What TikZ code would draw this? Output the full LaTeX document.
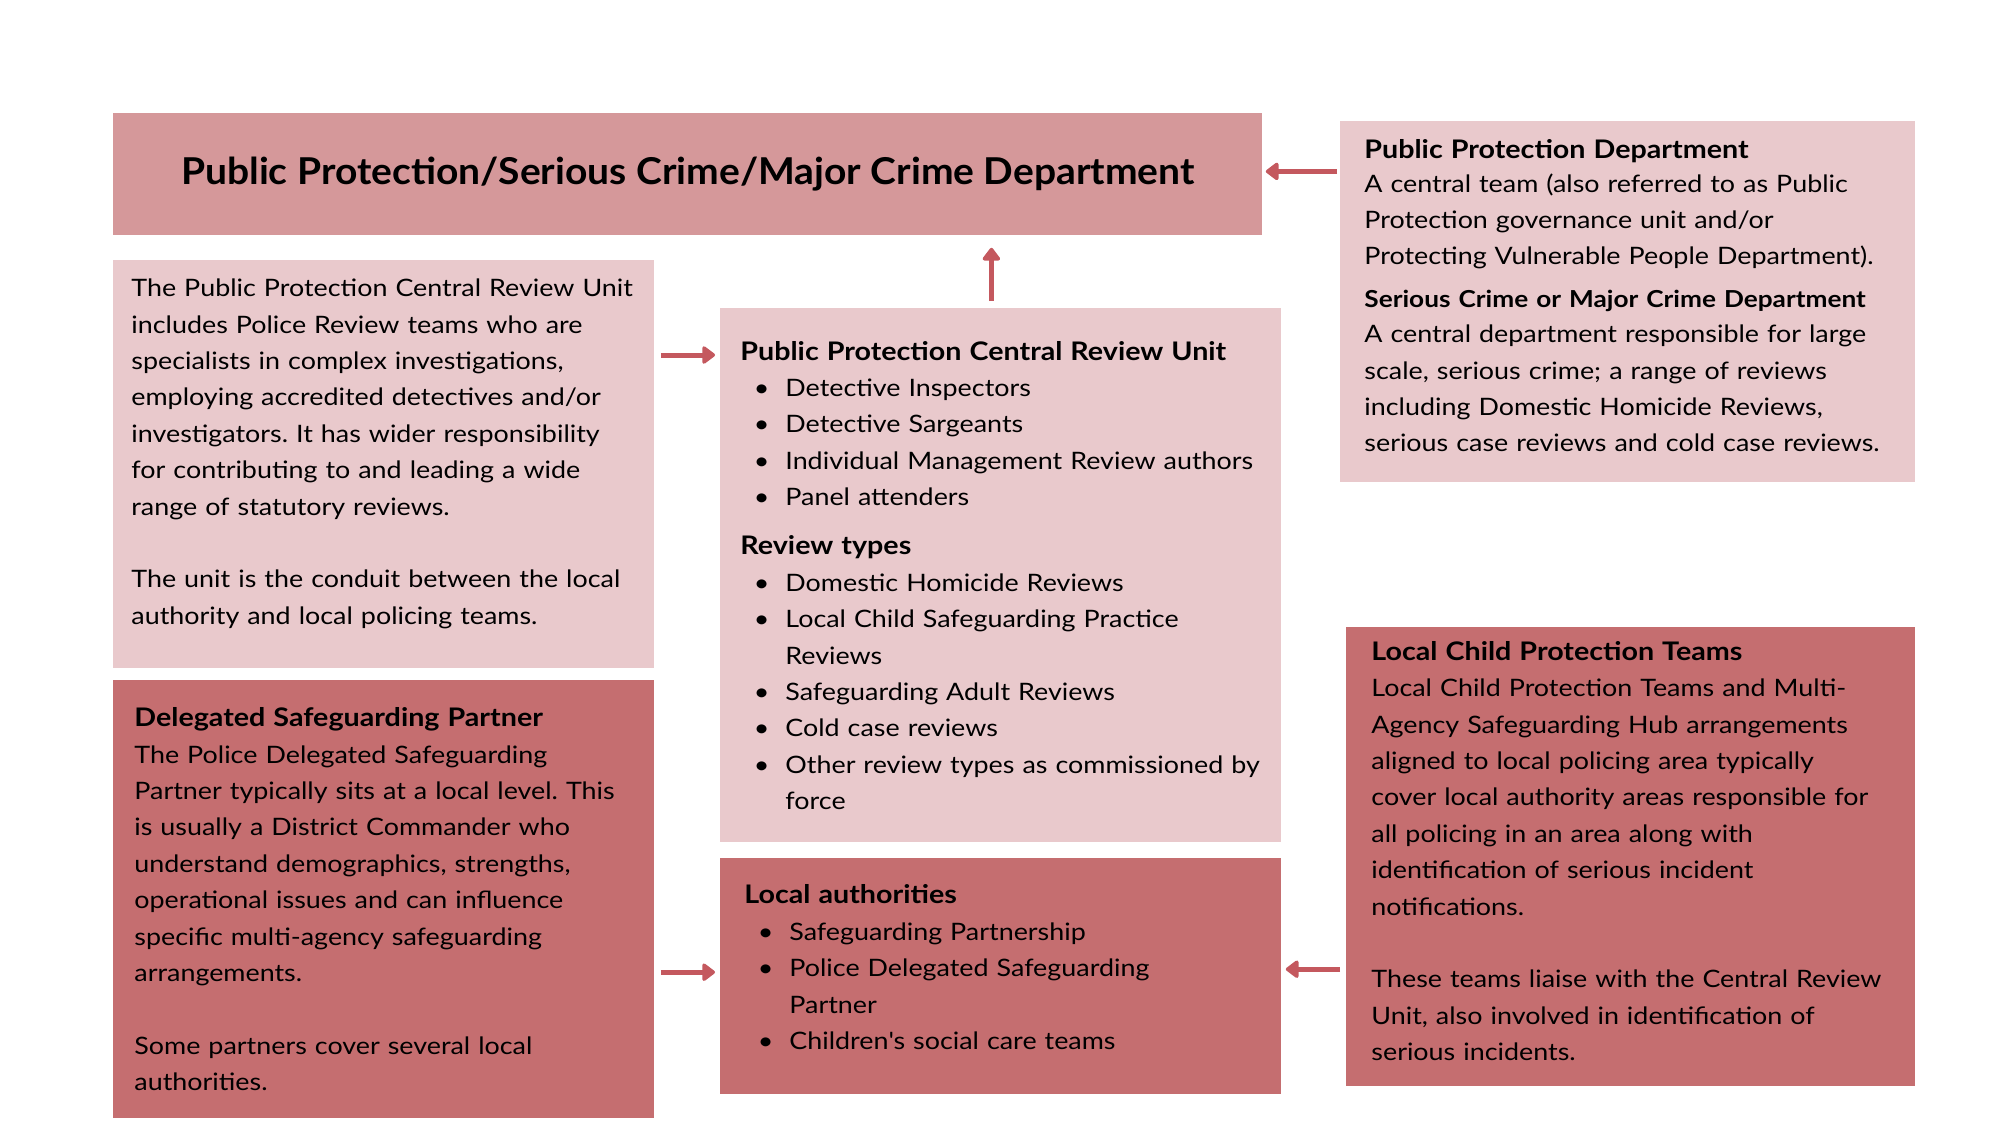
\documentclass[tikz,border=0pt]{standalone}
\usepackage{fontspec}
\setmainfont{Lato}[FakeStretch=1.12]
\newfontfamily\TitleFont{Lato}[FakeStretch=1.054]
\usepackage{enumitem}
\usetikzlibrary{positioning,arrows.meta}
\definecolor{deptpink}{HTML}{D5989A}
\definecolor{boxlight}{HTML}{E9C9CC}
\definecolor{boxdark}{HTML}{C56E70}
\definecolor{arrowred}{HTML}{C4585E}
\newcommand{\BoxHead}[2][12.8]{\mbox{\fontsize{#1}{18.2}\selectfont\bfseries #2}}
\newcommand{\BoxTail}[1]{\par\vspace{#1}\kern0pt}
\newlist{reviewlist}{itemize}{1}
\setlist[reviewlist]{label=\textbullet,leftmargin=22.5pt,labelsep=8pt,itemsep=0pt,topsep=0pt,parsep=0pt,partopsep=0pt}
\frenchspacing

\begin{document}
\begin{tikzpicture}[x=0.5pt,y=-0.5pt,
    box/.style={inner sep=0pt,align=left,anchor=north west,font=\fontsize{12}{18.2}\selectfont},
    lightbox/.style={box,fill=boxlight},
    darkbox/.style={box,fill=boxdark},
    arr/.style={draw=arrowred,line width=2.5pt,-{Triangle[length=7pt,width=10pt,round]}}]

  \useasboundingbox[fill=white] (0,0) rectangle (2000,1125);

  \node[box,fill=deptpink,align=center,minimum width=574.5pt,minimum height=61pt,
        font=\TitleFont\fontsize{18.5}{22}\selectfont\bfseries] (ppDept) at (113,113)
        {Public Protection/Serious Crime/Major Crime Department};

  \node[lightbox,minimum width=270.5pt,minimum height=204pt,inner xsep=9pt,text width=252.5pt] (cruInfo) at (113,260)
        {The Public Protection Central Review Unit\\
         includes Police Review teams who are\\
         specialists in complex investigations,\\
         employing accredited detectives and/or\\
         investigators. It has wider responsibility\\
         for contributing to and leading a wide\\
         range of statutory reviews.\\[18.2pt]
         The unit is the conduit between the local\\
         authority and local policing teams.\BoxTail{10.5pt}};

  \node[darkbox,below=5.5pt of cruInfo.south west,anchor=north west,
        minimum width=270.5pt,minimum height=219pt,inner xsep=10.5pt,text width=249.5pt] (dspBox)
        {\BoxHead{Delegated Safeguarding Partner}\\
         The Police Delegated Safeguarding\\
         Partner typically sits at a local level. This\\
         is usually a District Commander who\\
         understand demographics, strengths,\\
         operational issues and can influence\\
         specific multi-agency safeguarding\\
         arrangements.\\[18.2pt]
         Some partners cover several local\\
         authorities.};

  \node[lightbox,minimum width=280.5pt,minimum height=267pt,inner xsep=10pt,text width=260.5pt] (cruBox) at (720,308)
        {\BoxHead{Public Protection Central Review Unit}
         \begin{reviewlist}
           \item Detective Inspectors
           \item Detective Sargeants
           \item Individual Management Review authors
           \item Panel attenders
         \end{reviewlist}
         \vspace{6.4pt}\BoxHead{Review types}
         \begin{reviewlist}
           \item Domestic Homicide Reviews
           \item Local Child Safeguarding Practice\\ Reviews
           \item Safeguarding Adult Reviews
           \item Cold case reviews
           \item Other review types as commissioned by\\ force
         \end{reviewlist}};

  \node[darkbox,below=7.5pt of cruBox.south west,anchor=north west,
        minimum width=280.5pt,minimum height=118pt,inner xsep=12pt,text width=256.5pt] (laBox)
        {\BoxHead{Local authorities}
         \begin{reviewlist}
           \item Safeguarding Partnership
           \item Police Delegated Safeguarding\\ Partner
           \item Children\textquotesingle s social care teams
         \end{reviewlist}
         \BoxTail{9pt}};

  \node[lightbox,minimum width=287.5pt,minimum height=180.5pt,inner xsep=12pt,text width=263.5pt] (ppdInfo) at (1340,121)
        {\BoxHead{Public Protection Department}\\[-1.6pt]
         A central team (also referred to as Public\\
         Protection governance unit and/or\\
         Protecting Vulnerable People Department).\\[3.2pt]
         \BoxHead[11.7]{Serious Crime or Major Crime Department}\\[-0.7pt]
         A central department responsible for large\\
         scale, serious crime; a range of reviews\\
         including Domestic Homicide Reviews,\\
         serious case reviews and cold case reviews.\BoxTail{6pt}};

  \node[darkbox,minimum width=284.5pt,minimum height=229.5pt,inner xsep=12.5pt,text width=259.5pt] (lcptBox) at (1346,627)
        {\BoxHead{Local Child Protection Teams}\\
         Local Child Protection Teams and Multi-\\
         Agency Safeguarding Hub arrangements\\
         aligned to local policing area typically\\
         cover local authority areas responsible for\\
         all policing in an area along with\\
         identification of serious incident\\
         notifications.\\[18.2pt]
         These teams liaise with the Central Review\\
         Unit, also involved in identification of\\
         serious incidents.\BoxTail{5.8pt}};

  % connectors
  \draw[arr,shorten <=3pt,shorten >=2.5pt] ([yshift=-23.5pt]cruBox.north west -| cruInfo.east) -- ([yshift=-23.5pt]cruBox.north west);
  \draw[arr,shorten <=3.5pt,shorten >=6pt] ([xshift=-4.75pt]cruBox.north) -- ([xshift=-4.75pt]cruBox.north |- ppDept.south);
  \draw[arr,shorten <=1.5pt,shorten >=1.5pt] ([yshift=1.5pt]ppDept.east -| ppdInfo.west) -- ([yshift=1.5pt]ppDept.east);
  \draw[arr,shorten <=3pt,shorten >=2.5pt] ([yshift=2pt]laBox.west -| dspBox.east) -- ([yshift=2pt]laBox.west);
  \draw[arr,shorten <=3pt,shorten >=2pt] ([yshift=3.5pt]laBox.east -| lcptBox.west) -- ([yshift=3.5pt]laBox.east);
\end{tikzpicture}
\end{document}
